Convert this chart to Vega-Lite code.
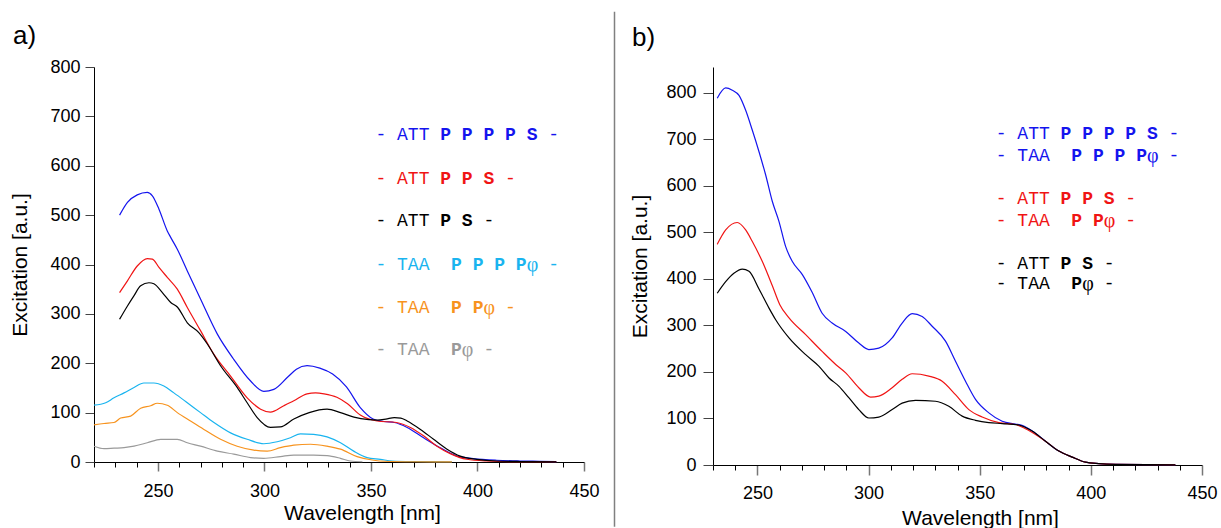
{
  "$schema": "https://vega.github.io/schema/vega-lite/v6.json",
  "background": "#ffffff",
  "padding": {"left": 9, "top": 10, "right": 0, "bottom": 0},
  "spacing": 13,
  "config": {
    "font": "Liberation Sans",
    "view": {"stroke": null},
    "axis": {
      "grid": false,
      "domainColor": "#000000",
      "domainWidth": 1,
      "labelFont": "Liberation Sans",
      "labelFontSize": 18,
      "labelColor": "#000000",
      "labelFlush": false,
      "titleFont": "Liberation Sans",
      "titleFontSize": 21,
      "titleFontWeight": "normal",
      "titleColor": "#000000",
      "tickColor": "#444444"
    },
    "text": {"font": "Liberation Mono, Cousine, DejaVu Sans Mono, monospace", "fontSize": 18, "align": "left", "baseline": "middle"},
    "title": {"font": "Liberation Sans", "fontSize": 26, "fontWeight": "normal", "color": "#000000", "anchor": "start", "frame": "group", "dx": -81}
  },
  "resolve": {"scale": {"x": "independent", "y": "independent", "color": "independent"}},
  "datasets": {
    "keys": [
      {"panel": "a", "key": "ATT PPPPS", "wl": 352.1, "exc": 662, "part": "stem", "col": 0, "text": "-\u00a0ATT"},
      {"panel": "a", "key": "ATT PPPPS", "wl": 352.1, "exc": 662, "part": "residues", "col": 6, "text": "P\u00a0P\u00a0P\u00a0P\u00a0S"},
      {"panel": "a", "key": "ATT PPPPS", "wl": 352.1, "exc": 662, "part": "end", "col": 16, "text": "-"},
      {"panel": "a", "key": "ATT PPS", "wl": 352.1, "exc": 574, "part": "stem", "col": 0, "text": "-\u00a0ATT"},
      {"panel": "a", "key": "ATT PPS", "wl": 352.1, "exc": 574, "part": "residues", "col": 6, "text": "P\u00a0P\u00a0S"},
      {"panel": "a", "key": "ATT PPS", "wl": 352.1, "exc": 574, "part": "end", "col": 12, "text": "-"},
      {"panel": "a", "key": "ATT PS", "wl": 352.1, "exc": 488, "part": "stem", "col": 0, "text": "-\u00a0ATT"},
      {"panel": "a", "key": "ATT PS", "wl": 352.1, "exc": 488, "part": "residues", "col": 6, "text": "P\u00a0S"},
      {"panel": "a", "key": "ATT PS", "wl": 352.1, "exc": 488, "part": "end", "col": 10, "text": "-"},
      {"panel": "a", "key": "TAA PPPPφ", "wl": 352.1, "exc": 400, "part": "stem", "col": 0, "text": "-\u00a0TAA"},
      {"panel": "a", "key": "TAA PPPPφ", "wl": 352.1, "exc": 400, "part": "residues", "col": 7, "text": "P\u00a0P\u00a0P\u00a0P"},
      {"panel": "a", "key": "TAA PPPPφ", "wl": 352.1, "exc": 400, "part": "phi", "col": 14, "text": "φ"},
      {"panel": "a", "key": "TAA PPPPφ", "wl": 352.1, "exc": 400, "part": "end", "col": 16, "text": "-"},
      {"panel": "a", "key": "TAA PPφ", "wl": 352.1, "exc": 312, "part": "stem", "col": 0, "text": "-\u00a0TAA"},
      {"panel": "a", "key": "TAA PPφ", "wl": 352.1, "exc": 312, "part": "residues", "col": 7, "text": "P\u00a0P"},
      {"panel": "a", "key": "TAA PPφ", "wl": 352.1, "exc": 312, "part": "phi", "col": 10, "text": "φ"},
      {"panel": "a", "key": "TAA PPφ", "wl": 352.1, "exc": 312, "part": "end", "col": 12, "text": "-"},
      {"panel": "a", "key": "TAA Pφ", "wl": 352.1, "exc": 226, "part": "stem", "col": 0, "text": "-\u00a0TAA"},
      {"panel": "a", "key": "TAA Pφ", "wl": 352.1, "exc": 226, "part": "residues", "col": 7, "text": "P"},
      {"panel": "a", "key": "TAA Pφ", "wl": 352.1, "exc": 226, "part": "phi", "col": 8, "text": "φ"},
      {"panel": "a", "key": "TAA Pφ", "wl": 352.1, "exc": 226, "part": "end", "col": 10, "text": "-"},

      {"panel": "b", "key": "ATT PPPPS / TAA PPPPφ", "wl": 357.2, "exc": 710, "part": "stem", "col": 0, "text": "-\u00a0ATT"},
      {"panel": "b", "key": "ATT PPPPS / TAA PPPPφ", "wl": 357.2, "exc": 710, "part": "residues", "col": 6, "text": "P\u00a0P\u00a0P\u00a0P\u00a0S"},
      {"panel": "b", "key": "ATT PPPPS / TAA PPPPφ", "wl": 357.2, "exc": 710, "part": "end", "col": 16, "text": "-"},
      {"panel": "b", "key": "ATT PPPPS / TAA PPPPφ", "wl": 357.2, "exc": 664, "part": "stem", "col": 0, "text": "-\u00a0TAA"},
      {"panel": "b", "key": "ATT PPPPS / TAA PPPPφ", "wl": 357.2, "exc": 664, "part": "residues", "col": 7, "text": "P\u00a0P\u00a0P\u00a0P"},
      {"panel": "b", "key": "ATT PPPPS / TAA PPPPφ", "wl": 357.2, "exc": 664, "part": "phi", "col": 14, "text": "φ"},
      {"panel": "b", "key": "ATT PPPPS / TAA PPPPφ", "wl": 357.2, "exc": 664, "part": "end", "col": 16, "text": "-"},
      {"panel": "b", "key": "ATT PPS / TAA PPφ", "wl": 357.2, "exc": 571, "part": "stem", "col": 0, "text": "-\u00a0ATT"},
      {"panel": "b", "key": "ATT PPS / TAA PPφ", "wl": 357.2, "exc": 571, "part": "residues", "col": 6, "text": "P\u00a0P\u00a0S"},
      {"panel": "b", "key": "ATT PPS / TAA PPφ", "wl": 357.2, "exc": 571, "part": "end", "col": 12, "text": "-"},
      {"panel": "b", "key": "ATT PPS / TAA PPφ", "wl": 357.2, "exc": 525, "part": "stem", "col": 0, "text": "-\u00a0TAA"},
      {"panel": "b", "key": "ATT PPS / TAA PPφ", "wl": 357.2, "exc": 525, "part": "residues", "col": 7, "text": "P\u00a0P"},
      {"panel": "b", "key": "ATT PPS / TAA PPφ", "wl": 357.2, "exc": 525, "part": "phi", "col": 10, "text": "φ"},
      {"panel": "b", "key": "ATT PPS / TAA PPφ", "wl": 357.2, "exc": 525, "part": "end", "col": 12, "text": "-"},
      {"panel": "b", "key": "ATT PS / TAA Pφ", "wl": 357.2, "exc": 432, "part": "stem", "col": 0, "text": "-\u00a0ATT"},
      {"panel": "b", "key": "ATT PS / TAA Pφ", "wl": 357.2, "exc": 432, "part": "residues", "col": 6, "text": "P\u00a0S"},
      {"panel": "b", "key": "ATT PS / TAA Pφ", "wl": 357.2, "exc": 432, "part": "end", "col": 10, "text": "-"},
      {"panel": "b", "key": "ATT PS / TAA Pφ", "wl": 357.2, "exc": 388, "part": "stem", "col": 0, "text": "-\u00a0TAA"},
      {"panel": "b", "key": "ATT PS / TAA Pφ", "wl": 357.2, "exc": 388, "part": "residues", "col": 7, "text": "P"},
      {"panel": "b", "key": "ATT PS / TAA Pφ", "wl": 357.2, "exc": 388, "part": "phi", "col": 8, "text": "φ"},
      {"panel": "b", "key": "ATT PS / TAA Pφ", "wl": 357.2, "exc": 388, "part": "end", "col": 10, "text": "-"}
    ],
    "spectra": [
      {"panel": "a", "key": "ATT PPPPS", "wl": 232, "exc": 500},
      {"panel": "a", "key": "ATT PPPPS", "wl": 235.7, "exc": 526},
      {"panel": "a", "key": "ATT PPPPS", "wl": 240.3, "exc": 541},
      {"panel": "a", "key": "ATT PPPPS", "wl": 245, "exc": 546},
      {"panel": "a", "key": "ATT PPPPS", "wl": 247.4, "exc": 539},
      {"panel": "a", "key": "ATT PPPPS", "wl": 250.5, "exc": 512},
      {"panel": "a", "key": "ATT PPPPS", "wl": 254.4, "exc": 468},
      {"panel": "a", "key": "ATT PPPPS", "wl": 256, "exc": 455},
      {"panel": "a", "key": "ATT PPPPS", "wl": 259.1, "exc": 431},
      {"panel": "a", "key": "ATT PPPPS", "wl": 263.8, "exc": 387},
      {"panel": "a", "key": "ATT PPPPS", "wl": 270, "exc": 330},
      {"panel": "a", "key": "ATT PPPPS", "wl": 277.9, "exc": 259},
      {"panel": "a", "key": "ATT PPPPS", "wl": 285.6, "exc": 208},
      {"panel": "a", "key": "ATT PPPPS", "wl": 293.5, "exc": 164},
      {"panel": "a", "key": "ATT PPPPS", "wl": 299.7, "exc": 143},
      {"panel": "a", "key": "ATT PPPPS", "wl": 304.4, "exc": 147},
      {"panel": "a", "key": "ATT PPPPS", "wl": 310.7, "exc": 171},
      {"panel": "a", "key": "ATT PPPPS", "wl": 315, "exc": 188},
      {"panel": "a", "key": "ATT PPPPS", "wl": 320, "exc": 195},
      {"panel": "a", "key": "ATT PPPPS", "wl": 326, "exc": 190},
      {"panel": "a", "key": "ATT PPPPS", "wl": 332, "exc": 178},
      {"panel": "a", "key": "ATT PPPPS", "wl": 338.5, "exc": 152},
      {"panel": "a", "key": "ATT PPPPS", "wl": 345, "exc": 110},
      {"panel": "a", "key": "ATT PPPPS", "wl": 351, "exc": 87},
      {"panel": "a", "key": "ATT PPPPS", "wl": 356, "exc": 82},
      {"panel": "a", "key": "ATT PPPPS", "wl": 361, "exc": 80},
      {"panel": "a", "key": "ATT PPPPS", "wl": 367, "exc": 70},
      {"panel": "a", "key": "ATT PPPPS", "wl": 374.7, "exc": 49},
      {"panel": "a", "key": "ATT PPPPS", "wl": 382.5, "exc": 29},
      {"panel": "a", "key": "ATT PPPPS", "wl": 390.4, "exc": 12},
      {"panel": "a", "key": "ATT PPPPS", "wl": 398, "exc": 7},
      {"panel": "a", "key": "ATT PPPPS", "wl": 409, "exc": 3.5},
      {"panel": "a", "key": "ATT PPPPS", "wl": 420, "exc": 2},
      {"panel": "a", "key": "ATT PPPPS", "wl": 429, "exc": 1.4},
      {"panel": "a", "key": "ATT PPPPS", "wl": 437, "exc": 0.6},

      {"panel": "a", "key": "ATT PPS", "wl": 232, "exc": 343},
      {"panel": "a", "key": "ATT PPS", "wl": 235.7, "exc": 367},
      {"panel": "a", "key": "ATT PPS", "wl": 240.3, "exc": 397},
      {"panel": "a", "key": "ATT PPS", "wl": 245, "exc": 412},
      {"panel": "a", "key": "ATT PPS", "wl": 247.4, "exc": 411},
      {"panel": "a", "key": "ATT PPS", "wl": 250.5, "exc": 394},
      {"panel": "a", "key": "ATT PPS", "wl": 254.4, "exc": 374},
      {"panel": "a", "key": "ATT PPS", "wl": 259.1, "exc": 350},
      {"panel": "a", "key": "ATT PPS", "wl": 263.8, "exc": 313},
      {"panel": "a", "key": "ATT PPS", "wl": 270, "exc": 266},
      {"panel": "a", "key": "ATT PPS", "wl": 276.3, "exc": 218},
      {"panel": "a", "key": "ATT PPS", "wl": 284.1, "exc": 174},
      {"panel": "a", "key": "ATT PPS", "wl": 291.9, "exc": 130},
      {"panel": "a", "key": "ATT PPS", "wl": 298.2, "exc": 107},
      {"panel": "a", "key": "ATT PPS", "wl": 302.8, "exc": 101},
      {"panel": "a", "key": "ATT PPS", "wl": 309.1, "exc": 114},
      {"panel": "a", "key": "ATT PPS", "wl": 313.8, "exc": 124},
      {"panel": "a", "key": "ATT PPS", "wl": 320, "exc": 138},
      {"panel": "a", "key": "ATT PPS", "wl": 324, "exc": 140},
      {"panel": "a", "key": "ATT PPS", "wl": 328, "exc": 138},
      {"panel": "a", "key": "ATT PPS", "wl": 334, "exc": 131},
      {"panel": "a", "key": "ATT PPS", "wl": 339, "exc": 118},
      {"panel": "a", "key": "ATT PPS", "wl": 345, "exc": 95},
      {"panel": "a", "key": "ATT PPS", "wl": 352.9, "exc": 83},
      {"panel": "a", "key": "ATT PPS", "wl": 362, "exc": 80},
      {"panel": "a", "key": "ATT PPS", "wl": 368.5, "exc": 70},
      {"panel": "a", "key": "ATT PPS", "wl": 374.7, "exc": 53},
      {"panel": "a", "key": "ATT PPS", "wl": 381, "exc": 32},
      {"panel": "a", "key": "ATT PPS", "wl": 387.2, "exc": 17},
      {"panel": "a", "key": "ATT PPS", "wl": 395, "exc": 5.5},
      {"panel": "a", "key": "ATT PPS", "wl": 404, "exc": 2},
      {"panel": "a", "key": "ATT PPS", "wl": 417, "exc": 0.6},
      {"panel": "a", "key": "ATT PPS", "wl": 437, "exc": 0.5},

      {"panel": "a", "key": "ATT PS", "wl": 232, "exc": 289},
      {"panel": "a", "key": "ATT PS", "wl": 235.7, "exc": 316},
      {"panel": "a", "key": "ATT PS", "wl": 238.8, "exc": 337},
      {"panel": "a", "key": "ATT PS", "wl": 241.9, "exc": 357},
      {"panel": "a", "key": "ATT PS", "wl": 245.8, "exc": 363},
      {"panel": "a", "key": "ATT PS", "wl": 248.1, "exc": 361},
      {"panel": "a", "key": "ATT PS", "wl": 252.1, "exc": 343},
      {"panel": "a", "key": "ATT PS", "wl": 256, "exc": 323},
      {"panel": "a", "key": "ATT PS", "wl": 259.1, "exc": 314},
      {"panel": "a", "key": "ATT PS", "wl": 263.8, "exc": 282},
      {"panel": "a", "key": "ATT PS", "wl": 269.2, "exc": 262},
      {"panel": "a", "key": "ATT PS", "wl": 273.2, "exc": 239},
      {"panel": "a", "key": "ATT PS", "wl": 279.4, "exc": 195},
      {"panel": "a", "key": "ATT PS", "wl": 287.2, "exc": 151},
      {"panel": "a", "key": "ATT PS", "wl": 291.9, "exc": 120},
      {"panel": "a", "key": "ATT PS", "wl": 296.6, "exc": 90},
      {"panel": "a", "key": "ATT PS", "wl": 302.8, "exc": 70},
      {"panel": "a", "key": "ATT PS", "wl": 307.5, "exc": 71},
      {"panel": "a", "key": "ATT PS", "wl": 313.8, "exc": 87},
      {"panel": "a", "key": "ATT PS", "wl": 321, "exc": 100},
      {"panel": "a", "key": "ATT PS", "wl": 329.4, "exc": 107},
      {"panel": "a", "key": "ATT PS", "wl": 335.7, "exc": 100},
      {"panel": "a", "key": "ATT PS", "wl": 342, "exc": 91},
      {"panel": "a", "key": "ATT PS", "wl": 349, "exc": 86},
      {"panel": "a", "key": "ATT PS", "wl": 353, "exc": 85},
      {"panel": "a", "key": "ATT PS", "wl": 357, "exc": 87},
      {"panel": "a", "key": "ATT PS", "wl": 361, "exc": 90},
      {"panel": "a", "key": "ATT PS", "wl": 364, "exc": 89},
      {"panel": "a", "key": "ATT PS", "wl": 367, "exc": 83},
      {"panel": "a", "key": "ATT PS", "wl": 373.2, "exc": 66},
      {"panel": "a", "key": "ATT PS", "wl": 379.4, "exc": 46},
      {"panel": "a", "key": "ATT PS", "wl": 385.7, "exc": 26},
      {"panel": "a", "key": "ATT PS", "wl": 391.9, "exc": 12},
      {"panel": "a", "key": "ATT PS", "wl": 399.7, "exc": 5.5},
      {"panel": "a", "key": "ATT PS", "wl": 409, "exc": 2},
      {"panel": "a", "key": "ATT PS", "wl": 420, "exc": 1},
      {"panel": "a", "key": "ATT PS", "wl": 437, "exc": 0.5},

      {"panel": "a", "key": "TAA PPPPφ", "wl": 220, "exc": 115},
      {"panel": "a", "key": "TAA PPPPφ", "wl": 225.5, "exc": 120},
      {"panel": "a", "key": "TAA PPPPφ", "wl": 229.4, "exc": 130},
      {"panel": "a", "key": "TAA PPPPφ", "wl": 234.1, "exc": 140},
      {"panel": "a", "key": "TAA PPPPφ", "wl": 238.8, "exc": 151},
      {"panel": "a", "key": "TAA PPPPφ", "wl": 243.4, "exc": 160},
      {"panel": "a", "key": "TAA PPPPφ", "wl": 248.1, "exc": 160},
      {"panel": "a", "key": "TAA PPPPφ", "wl": 252.8, "exc": 154},
      {"panel": "a", "key": "TAA PPPPφ", "wl": 257.5, "exc": 140},
      {"panel": "a", "key": "TAA PPPPφ", "wl": 263.8, "exc": 120},
      {"panel": "a", "key": "TAA PPPPφ", "wl": 270, "exc": 100},
      {"panel": "a", "key": "TAA PPPPφ", "wl": 276.3, "exc": 80},
      {"panel": "a", "key": "TAA PPPPφ", "wl": 284.1, "exc": 59},
      {"panel": "a", "key": "TAA PPPPφ", "wl": 291.9, "exc": 46},
      {"panel": "a", "key": "TAA PPPPφ", "wl": 299.7, "exc": 37},
      {"panel": "a", "key": "TAA PPPPφ", "wl": 306, "exc": 41},
      {"panel": "a", "key": "TAA PPPPφ", "wl": 312.2, "exc": 49},
      {"panel": "a", "key": "TAA PPPPφ", "wl": 316.9, "exc": 57},
      {"panel": "a", "key": "TAA PPPPφ", "wl": 323.1, "exc": 56},
      {"panel": "a", "key": "TAA PPPPφ", "wl": 329.4, "exc": 51},
      {"panel": "a", "key": "TAA PPPPφ", "wl": 335.7, "exc": 39},
      {"panel": "a", "key": "TAA PPPPφ", "wl": 341.9, "exc": 22},
      {"panel": "a", "key": "TAA PPPPφ", "wl": 348.2, "exc": 9},
      {"panel": "a", "key": "TAA PPPPφ", "wl": 354.4, "exc": 5.5},
      {"panel": "a", "key": "TAA PPPPφ", "wl": 360, "exc": 2},
      {"panel": "a", "key": "TAA PPPPφ", "wl": 370, "exc": 1},
      {"panel": "a", "key": "TAA PPPPφ", "wl": 388, "exc": 0.5},

      {"panel": "a", "key": "TAA PPφ", "wl": 220, "exc": 75},
      {"panel": "a", "key": "TAA PPφ", "wl": 224.7, "exc": 78},
      {"panel": "a", "key": "TAA PPφ", "wl": 229.4, "exc": 80},
      {"panel": "a", "key": "TAA PPφ", "wl": 232.5, "exc": 89},
      {"panel": "a", "key": "TAA PPφ", "wl": 237.2, "exc": 93},
      {"panel": "a", "key": "TAA PPφ", "wl": 241.9, "exc": 109},
      {"panel": "a", "key": "TAA PPφ", "wl": 246.6, "exc": 114},
      {"panel": "a", "key": "TAA PPφ", "wl": 249.7, "exc": 119},
      {"panel": "a", "key": "TAA PPφ", "wl": 254.4, "exc": 115},
      {"panel": "a", "key": "TAA PPφ", "wl": 259.1, "exc": 100},
      {"panel": "a", "key": "TAA PPφ", "wl": 265.3, "exc": 83},
      {"panel": "a", "key": "TAA PPφ", "wl": 271.6, "exc": 66},
      {"panel": "a", "key": "TAA PPφ", "wl": 279.4, "exc": 46},
      {"panel": "a", "key": "TAA PPφ", "wl": 287.2, "exc": 32},
      {"panel": "a", "key": "TAA PPφ", "wl": 295, "exc": 24},
      {"panel": "a", "key": "TAA PPφ", "wl": 301.3, "exc": 22},
      {"panel": "a", "key": "TAA PPφ", "wl": 307.5, "exc": 29},
      {"panel": "a", "key": "TAA PPφ", "wl": 313.8, "exc": 34},
      {"panel": "a", "key": "TAA PPφ", "wl": 321.6, "exc": 36},
      {"panel": "a", "key": "TAA PPφ", "wl": 329.4, "exc": 32},
      {"panel": "a", "key": "TAA PPφ", "wl": 335.7, "exc": 26},
      {"panel": "a", "key": "TAA PPφ", "wl": 343.5, "exc": 11},
      {"panel": "a", "key": "TAA PPφ", "wl": 351.3, "exc": 3.5},
      {"panel": "a", "key": "TAA PPφ", "wl": 356, "exc": 1.5},
      {"panel": "a", "key": "TAA PPφ", "wl": 370, "exc": 0.5},
      {"panel": "a", "key": "TAA PPφ", "wl": 388, "exc": 0.3},

      {"panel": "a", "key": "TAA Pφ", "wl": 220, "exc": 32},
      {"panel": "a", "key": "TAA Pφ", "wl": 224.7, "exc": 27},
      {"panel": "a", "key": "TAA Pφ", "wl": 229.4, "exc": 28},
      {"panel": "a", "key": "TAA Pφ", "wl": 234.1, "exc": 29},
      {"panel": "a", "key": "TAA Pφ", "wl": 238.8, "exc": 32},
      {"panel": "a", "key": "TAA Pφ", "wl": 245, "exc": 39},
      {"panel": "a", "key": "TAA Pφ", "wl": 251.3, "exc": 46},
      {"panel": "a", "key": "TAA Pφ", "wl": 259.1, "exc": 46},
      {"panel": "a", "key": "TAA Pφ", "wl": 263.8, "exc": 39},
      {"panel": "a", "key": "TAA Pφ", "wl": 270, "exc": 32},
      {"panel": "a", "key": "TAA Pφ", "wl": 277.9, "exc": 22},
      {"panel": "a", "key": "TAA Pφ", "wl": 285.6, "exc": 16},
      {"panel": "a", "key": "TAA Pφ", "wl": 293.5, "exc": 9},
      {"panel": "a", "key": "TAA Pφ", "wl": 299.7, "exc": 7.5},
      {"panel": "a", "key": "TAA Pφ", "wl": 307.5, "exc": 11},
      {"panel": "a", "key": "TAA Pφ", "wl": 313.8, "exc": 14},
      {"panel": "a", "key": "TAA Pφ", "wl": 323.1, "exc": 14},
      {"panel": "a", "key": "TAA Pφ", "wl": 329.4, "exc": 13},
      {"panel": "a", "key": "TAA Pφ", "wl": 335.7, "exc": 7.5},
      {"panel": "a", "key": "TAA Pφ", "wl": 340.3, "exc": 2},
      {"panel": "a", "key": "TAA Pφ", "wl": 346, "exc": 0.5},

      {"panel": "b", "key": "ATT PPPPS / TAA PPPPφ", "wl": 231.9, "exc": 788},
      {"panel": "b", "key": "ATT PPPPS / TAA PPPPφ", "wl": 235.7, "exc": 810},
      {"panel": "b", "key": "ATT PPPPS / TAA PPPPφ", "wl": 238.7, "exc": 805},
      {"panel": "b", "key": "ATT PPPPS / TAA PPPPφ", "wl": 241.7, "exc": 794},
      {"panel": "b", "key": "ATT PPPPS / TAA PPPPφ", "wl": 244.7, "exc": 762},
      {"panel": "b", "key": "ATT PPPPS / TAA PPPPφ", "wl": 247.7, "exc": 719},
      {"panel": "b", "key": "ATT PPPPS / TAA PPPPφ", "wl": 250.7, "exc": 673},
      {"panel": "b", "key": "ATT PPPPS / TAA PPPPφ", "wl": 253.7, "exc": 623},
      {"panel": "b", "key": "ATT PPPPS / TAA PPPPφ", "wl": 256.7, "exc": 566},
      {"panel": "b", "key": "ATT PPPPS / TAA PPPPφ", "wl": 259.7, "exc": 523},
      {"panel": "b", "key": "ATT PPPPS / TAA PPPPφ", "wl": 262.7, "exc": 469},
      {"panel": "b", "key": "ATT PPPPS / TAA PPPPφ", "wl": 265.7, "exc": 437},
      {"panel": "b", "key": "ATT PPPPS / TAA PPPPφ", "wl": 270.2, "exc": 409},
      {"panel": "b", "key": "ATT PPPPS / TAA PPPPφ", "wl": 274.6, "exc": 371},
      {"panel": "b", "key": "ATT PPPPS / TAA PPPPφ", "wl": 279.1, "exc": 326},
      {"panel": "b", "key": "ATT PPPPS / TAA PPPPφ", "wl": 283.6, "exc": 305},
      {"panel": "b", "key": "ATT PPPPS / TAA PPPPφ", "wl": 289.7, "exc": 287},
      {"panel": "b", "key": "ATT PPPPS / TAA PPPPφ", "wl": 295.6, "exc": 262},
      {"panel": "b", "key": "ATT PPPPS / TAA PPPPφ", "wl": 300.1, "exc": 248},
      {"panel": "b", "key": "ATT PPPPS / TAA PPPPφ", "wl": 304.6, "exc": 251},
      {"panel": "b", "key": "ATT PPPPS / TAA PPPPφ", "wl": 310.6, "exc": 273},
      {"panel": "b", "key": "ATT PPPPS / TAA PPPPφ", "wl": 315.1, "exc": 305},
      {"panel": "b", "key": "ATT PPPPS / TAA PPPPφ", "wl": 319.6, "exc": 325},
      {"panel": "b", "key": "ATT PPPPS / TAA PPPPφ", "wl": 324.1, "exc": 319},
      {"panel": "b", "key": "ATT PPPPS / TAA PPPPφ", "wl": 328.6, "exc": 298},
      {"panel": "b", "key": "ATT PPPPS / TAA PPPPφ", "wl": 334.6, "exc": 266},
      {"panel": "b", "key": "ATT PPPPS / TAA PPPPφ", "wl": 339.1, "exc": 223},
      {"panel": "b", "key": "ATT PPPPS / TAA PPPPφ", "wl": 343.6, "exc": 180},
      {"panel": "b", "key": "ATT PPPPS / TAA PPPPφ", "wl": 348.1, "exc": 141},
      {"panel": "b", "key": "ATT PPPPS / TAA PPPPφ", "wl": 354.1, "exc": 112},
      {"panel": "b", "key": "ATT PPPPS / TAA PPPPφ", "wl": 360.1, "exc": 94},
      {"panel": "b", "key": "ATT PPPPS / TAA PPPPφ", "wl": 366.1, "exc": 88},
      {"panel": "b", "key": "ATT PPPPS / TAA PPPPφ", "wl": 369, "exc": 85},
      {"panel": "b", "key": "ATT PPPPS / TAA PPPPφ", "wl": 373.6, "exc": 73},
      {"panel": "b", "key": "ATT PPPPS / TAA PPPPφ", "wl": 379.6, "exc": 51},
      {"panel": "b", "key": "ATT PPPPS / TAA PPPPφ", "wl": 385.6, "exc": 30},
      {"panel": "b", "key": "ATT PPPPS / TAA PPPPφ", "wl": 391.6, "exc": 17},
      {"panel": "b", "key": "ATT PPPPS / TAA PPPPφ", "wl": 397.6, "exc": 6},
      {"panel": "b", "key": "ATT PPPPS / TAA PPPPφ", "wl": 403.6, "exc": 3},
      {"panel": "b", "key": "ATT PPPPS / TAA PPPPφ", "wl": 411.1, "exc": 1.5},
      {"panel": "b", "key": "ATT PPPPS / TAA PPPPφ", "wl": 438, "exc": 0.5},

      {"panel": "b", "key": "ATT PPS / TAA PPφ", "wl": 231.9, "exc": 474},
      {"panel": "b", "key": "ATT PPS / TAA PPφ", "wl": 235.7, "exc": 505},
      {"panel": "b", "key": "ATT PPS / TAA PPφ", "wl": 240.9, "exc": 521},
      {"panel": "b", "key": "ATT PPS / TAA PPφ", "wl": 244.7, "exc": 505},
      {"panel": "b", "key": "ATT PPS / TAA PPφ", "wl": 247.7, "exc": 480},
      {"panel": "b", "key": "ATT PPS / TAA PPφ", "wl": 252.2, "exc": 437},
      {"panel": "b", "key": "ATT PPS / TAA PPφ", "wl": 256.7, "exc": 385},
      {"panel": "b", "key": "ATT PPS / TAA PPφ", "wl": 260, "exc": 345},
      {"panel": "b", "key": "ATT PPS / TAA PPφ", "wl": 264.2, "exc": 316},
      {"panel": "b", "key": "ATT PPS / TAA PPφ", "wl": 271.7, "exc": 280},
      {"panel": "b", "key": "ATT PPS / TAA PPφ", "wl": 279.1, "exc": 244},
      {"panel": "b", "key": "ATT PPS / TAA PPφ", "wl": 285.2, "exc": 216},
      {"panel": "b", "key": "ATT PPS / TAA PPφ", "wl": 289.7, "exc": 198},
      {"panel": "b", "key": "ATT PPS / TAA PPφ", "wl": 295.6, "exc": 166},
      {"panel": "b", "key": "ATT PPS / TAA PPφ", "wl": 300.9, "exc": 146},
      {"panel": "b", "key": "ATT PPS / TAA PPφ", "wl": 304.6, "exc": 148},
      {"panel": "b", "key": "ATT PPS / TAA PPφ", "wl": 310.6, "exc": 166},
      {"panel": "b", "key": "ATT PPS / TAA PPφ", "wl": 315.1, "exc": 184},
      {"panel": "b", "key": "ATT PPS / TAA PPφ", "wl": 319.6, "exc": 196},
      {"panel": "b", "key": "ATT PPS / TAA PPφ", "wl": 327.1, "exc": 191},
      {"panel": "b", "key": "ATT PPS / TAA PPφ", "wl": 333.1, "exc": 180},
      {"panel": "b", "key": "ATT PPS / TAA PPφ", "wl": 339.1, "exc": 151},
      {"panel": "b", "key": "ATT PPS / TAA PPφ", "wl": 345.1, "exc": 119},
      {"panel": "b", "key": "ATT PPS / TAA PPφ", "wl": 351.1, "exc": 103},
      {"panel": "b", "key": "ATT PPS / TAA PPφ", "wl": 358.6, "exc": 91},
      {"panel": "b", "key": "ATT PPS / TAA PPφ", "wl": 366.1, "exc": 87},
      {"panel": "b", "key": "ATT PPS / TAA PPφ", "wl": 372.1, "exc": 74},
      {"panel": "b", "key": "ATT PPS / TAA PPφ", "wl": 379.6, "exc": 51},
      {"panel": "b", "key": "ATT PPS / TAA PPφ", "wl": 385.6, "exc": 30},
      {"panel": "b", "key": "ATT PPS / TAA PPφ", "wl": 391.6, "exc": 17},
      {"panel": "b", "key": "ATT PPS / TAA PPφ", "wl": 397.6, "exc": 6},
      {"panel": "b", "key": "ATT PPS / TAA PPφ", "wl": 403.6, "exc": 3},
      {"panel": "b", "key": "ATT PPS / TAA PPφ", "wl": 411, "exc": 1.5},
      {"panel": "b", "key": "ATT PPS / TAA PPφ", "wl": 438, "exc": 0.5},

      {"panel": "b", "key": "ATT PS / TAA Pφ", "wl": 231.9, "exc": 369},
      {"panel": "b", "key": "ATT PS / TAA Pφ", "wl": 235.7, "exc": 394},
      {"panel": "b", "key": "ATT PS / TAA Pφ", "wl": 239.4, "exc": 412},
      {"panel": "b", "key": "ATT PS / TAA Pφ", "wl": 243.2, "exc": 421},
      {"panel": "b", "key": "ATT PS / TAA Pφ", "wl": 246.2, "exc": 416},
      {"panel": "b", "key": "ATT PS / TAA Pφ", "wl": 250.7, "exc": 378},
      {"panel": "b", "key": "ATT PS / TAA Pφ", "wl": 255.2, "exc": 337},
      {"panel": "b", "key": "ATT PS / TAA Pφ", "wl": 258.2, "exc": 312},
      {"panel": "b", "key": "ATT PS / TAA Pφ", "wl": 264.2, "exc": 273},
      {"panel": "b", "key": "ATT PS / TAA Pφ", "wl": 271.7, "exc": 237},
      {"panel": "b", "key": "ATT PS / TAA Pφ", "wl": 277.7, "exc": 212},
      {"panel": "b", "key": "ATT PS / TAA Pφ", "wl": 282.2, "exc": 187},
      {"panel": "b", "key": "ATT PS / TAA Pφ", "wl": 286.7, "exc": 169},
      {"panel": "b", "key": "ATT PS / TAA Pφ", "wl": 291.2, "exc": 144},
      {"panel": "b", "key": "ATT PS / TAA Pφ", "wl": 295.6, "exc": 119},
      {"panel": "b", "key": "ATT PS / TAA Pφ", "wl": 300.1, "exc": 101},
      {"panel": "b", "key": "ATT PS / TAA Pφ", "wl": 304.6, "exc": 103},
      {"panel": "b", "key": "ATT PS / TAA Pφ", "wl": 310.6, "exc": 119},
      {"panel": "b", "key": "ATT PS / TAA Pφ", "wl": 315.1, "exc": 133},
      {"panel": "b", "key": "ATT PS / TAA Pφ", "wl": 321.1, "exc": 139},
      {"panel": "b", "key": "ATT PS / TAA Pφ", "wl": 330.1, "exc": 137},
      {"panel": "b", "key": "ATT PS / TAA Pφ", "wl": 336.1, "exc": 126},
      {"panel": "b", "key": "ATT PS / TAA Pφ", "wl": 342.1, "exc": 105},
      {"panel": "b", "key": "ATT PS / TAA Pφ", "wl": 348.1, "exc": 96},
      {"panel": "b", "key": "ATT PS / TAA Pφ", "wl": 354.1, "exc": 91},
      {"panel": "b", "key": "ATT PS / TAA Pφ", "wl": 360.1, "exc": 89},
      {"panel": "b", "key": "ATT PS / TAA Pφ", "wl": 367.6, "exc": 86},
      {"panel": "b", "key": "ATT PS / TAA Pφ", "wl": 373.6, "exc": 73},
      {"panel": "b", "key": "ATT PS / TAA Pφ", "wl": 379.6, "exc": 51},
      {"panel": "b", "key": "ATT PS / TAA Pφ", "wl": 385.6, "exc": 30},
      {"panel": "b", "key": "ATT PS / TAA Pφ", "wl": 391.6, "exc": 17},
      {"panel": "b", "key": "ATT PS / TAA Pφ", "wl": 397.6, "exc": 6},
      {"panel": "b", "key": "ATT PS / TAA Pφ", "wl": 403.6, "exc": 3},
      {"panel": "b", "key": "ATT PS / TAA Pφ", "wl": 411, "exc": 1.5},
      {"panel": "b", "key": "ATT PS / TAA Pφ", "wl": 438, "exc": 0.5}
    ]
  },
  "hconcat": [
    {
      "width": 490,
      "height": 395,
      "title": {"text": "a)", "offset": 9},
      "resolve": {"axis": {"x": "independent"}},
      "layer": [
        {
          "data": {"name": "spectra"},
          "transform": [{"filter": "datum.panel === 'a'"}],
          "mark": {"type": "line", "strokeWidth": 1.2, "interpolate": "monotone"},
          "encoding": {
            "x": {
              "field": "wl", "type": "quantitative",
              "scale": {"domain": [220, 450], "nice": false, "zero": false},
              "axis": {
                "title": "Wavelength [nm]",
                "values": [250, 300, 350, 400, 450],
                "tickSize": 9,
                "tickColor": "#777777",
                "tickWidth": 1.5,
                "labelPadding": 11,
                "titlePadding": 2,
                "titleX": 268
              }
            },
            "y": {
              "field": "exc", "type": "quantitative",
              "scale": {"domain": [0, 800], "nice": false},
              "axis": {
                "title": "Excitation [a.u.]",
                "values": [0, 100, 200, 300, 400, 500, 600, 700, 800],
                "tickSize": 9,
                "labelPadding": 5,
                "titlePadding": 19
              }
            },
            "color": {
              "field": "key", "type": "nominal",
              "scale": {
                "domain": ["ATT PPPPS", "ATT PPS", "ATT PS", "TAA PPPPφ", "TAA PPφ", "TAA Pφ"],
                "range": ["#1414ee", "#f01414", "#000000", "#19b4ef", "#f7931e", "#9a9a9a"]
              },
              "legend": null
            }
          }
        },
        {
          "data": {"name": "keys"},
          "transform": [{"filter": "datum.panel === 'a' && (datum.part === 'stem' || datum.part === 'end')"}],
          "mark": {"type": "text", "font": "Liberation Mono, Cousine, DejaVu Sans Mono, monospace", "dx": {"expr": "datum.col * 10.8"}},
          "encoding": {
            "x": {
              "field": "wl", "type": "quantitative",
              "scale": {"domain": [220, 450], "nice": false, "zero": false},
              "axis": {
                "orient": "bottom",
                "title": null,
                "domain": false,
                "labels": false,
                "values": [220, 230, 240, 260, 270, 280, 290, 310, 320, 330, 340, 360, 370, 380, 390, 410, 420, 430, 440],
                "tickSize": 5,
                "tickColor": "#000000",
                "tickWidth": 1
              }
            },
            "y": {"field": "exc", "type": "quantitative", "scale": {"domain": [0, 800], "nice": false}},
            "text": {"field": "text"},
            "color": {"field": "key", "type": "nominal", "legend": null}
          }
        },
        {
          "data": {"name": "keys"},
          "transform": [{"filter": "datum.panel === 'a' && datum.part === 'residues'"}],
          "mark": {"type": "text", "font": "Liberation Mono, Cousine, DejaVu Sans Mono, monospace", "fontWeight": "bold", "dx": {"expr": "datum.col * 10.8"}},
          "encoding": {
            "x": {"field": "wl", "type": "quantitative", "scale": {"domain": [220, 450], "nice": false, "zero": false}, "axis": null},
            "y": {"field": "exc", "type": "quantitative", "scale": {"domain": [0, 800], "nice": false}},
            "text": {"field": "text"},
            "color": {"field": "key", "type": "nominal", "legend": null}
          }
        },
        {
          "data": {"name": "keys"},
          "transform": [{"filter": "datum.panel === 'a' && datum.part === 'phi'"}],
          "mark": {"type": "text", "font": "Liberation Serif, DejaVu Serif, serif", "fontSize": 20, "dx": {"expr": "datum.col * 10.8"}},
          "encoding": {
            "x": {"field": "wl", "type": "quantitative", "scale": {"domain": [220, 450], "nice": false, "zero": false}, "axis": null},
            "y": {"field": "exc", "type": "quantitative", "scale": {"domain": [0, 800], "nice": false}},
            "text": {"field": "text"},
            "color": {"field": "key", "type": "nominal", "legend": null}
          }
        }
      ]
    },
    {
      "width": 1,
      "height": 398,
      "data": {"values": [{"part": "divider"}]},
      "mark": {"type": "rule", "color": "#808080", "strokeWidth": 1.5},
      "encoding": {
        "y": {"datum": 1.139, "type": "quantitative", "scale": {"domain": [0, 1]}, "axis": null},
        "y2": {"datum": -0.155}
      }
    },
    {
      "width": 489,
      "height": 398,
      "title": {"text": "b)", "offset": 16},
      "resolve": {"axis": {"x": "independent"}},
      "layer": [
        {
          "data": {"name": "spectra"},
          "transform": [{"filter": "datum.panel === 'b'"}],
          "mark": {"type": "line", "strokeWidth": 1.2, "interpolate": "monotone"},
          "encoding": {
            "x": {
              "field": "wl", "type": "quantitative",
              "scale": {"domain": [230, 450], "nice": false, "zero": false},
              "axis": {
                "title": "Wavelength [nm]",
                "values": [250, 300, 350, 400, 450],
                "tickSize": 10,
                "tickColor": "#777777",
                "tickWidth": 1.5,
                "labelPadding": 9,
                "titlePadding": 5,
                "titleX": 267
              }
            },
            "y": {
              "field": "exc", "type": "quantitative",
              "scale": {"domain": [0, 855], "nice": false},
              "axis": {
                "title": "Excitation [a.u.]",
                "values": [0, 100, 200, 300, 400, 500, 600, 700, 800],
                "tickSize": 10,
                "labelPadding": 7,
                "titlePadding": 15
              }
            },
            "color": {
              "field": "key", "type": "nominal",
              "scale": {
                "domain": ["ATT PPPPS / TAA PPPPφ", "ATT PPS / TAA PPφ", "ATT PS / TAA Pφ"],
                "range": ["#1414ee", "#f01414", "#000000"]
              },
              "legend": null
            }
          }
        },
        {
          "data": {"name": "keys"},
          "transform": [{"filter": "datum.panel === 'b' && (datum.part === 'stem' || datum.part === 'end')"}],
          "mark": {"type": "text", "font": "Liberation Mono, Cousine, DejaVu Sans Mono, monospace", "dx": {"expr": "datum.col * 10.8"}},
          "encoding": {
            "x": {
              "field": "wl", "type": "quantitative",
              "scale": {"domain": [230, 450], "nice": false, "zero": false},
              "axis": {
                "orient": "bottom",
                "title": null,
                "domain": false,
                "labels": false,
                "values": [230, 240, 260, 270, 280, 290, 310, 320, 330, 340, 360, 370, 380, 390, 410, 420, 430, 440],
                "tickSize": 5,
                "tickColor": "#000000",
                "tickWidth": 1
              }
            },
            "y": {"field": "exc", "type": "quantitative", "scale": {"domain": [0, 855], "nice": false}},
            "text": {"field": "text"},
            "color": {"field": "key", "type": "nominal", "legend": null}
          }
        },
        {
          "data": {"name": "keys"},
          "transform": [{"filter": "datum.panel === 'b' && datum.part === 'residues'"}],
          "mark": {"type": "text", "font": "Liberation Mono, Cousine, DejaVu Sans Mono, monospace", "fontWeight": "bold", "dx": {"expr": "datum.col * 10.8"}},
          "encoding": {
            "x": {"field": "wl", "type": "quantitative", "scale": {"domain": [230, 450], "nice": false, "zero": false}, "axis": null},
            "y": {"field": "exc", "type": "quantitative", "scale": {"domain": [0, 855], "nice": false}},
            "text": {"field": "text"},
            "color": {"field": "key", "type": "nominal", "legend": null}
          }
        },
        {
          "data": {"name": "keys"},
          "transform": [{"filter": "datum.panel === 'b' && datum.part === 'phi'"}],
          "mark": {"type": "text", "font": "Liberation Serif, DejaVu Serif, serif", "fontSize": 20, "dx": {"expr": "datum.col * 10.8"}},
          "encoding": {
            "x": {"field": "wl", "type": "quantitative", "scale": {"domain": [230, 450], "nice": false, "zero": false}, "axis": null},
            "y": {"field": "exc", "type": "quantitative", "scale": {"domain": [0, 855], "nice": false}},
            "text": {"field": "text"},
            "color": {"field": "key", "type": "nominal", "legend": null}
          }
        }
      ]
    }
  ]
}
